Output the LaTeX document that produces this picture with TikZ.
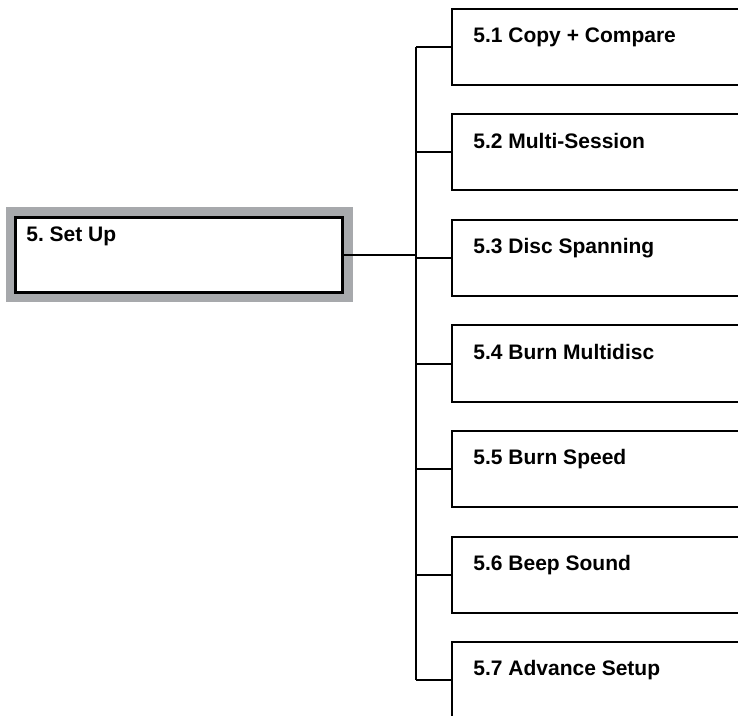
\documentclass[tikz,border=0pt]{standalone}
\usepackage{fontspec}
\setmainfont{Liberation Sans}
\usepackage{xcolor}
\usepackage{tikz}
\usetikzlibrary{positioning, calc}
\frenchspacing

\definecolor{framegray}{HTML}{A7A9AC}

\begin{document}
\begin{tikzpicture}[
  x=0.5pt, y=-0.5pt,
  menu/.style={rectangle, draw, line width=1pt, fill=white, anchor=north west, minimum width=170pt, minimum height=38pt, inner sep=0pt},
  mainmenu/.style={rectangle, draw, line width=1.5pt, fill=white, minimum width=163.5pt, minimum height=37.5pt, inner sep=0pt, preaction={draw=framegray, line width=10pt}},
  menutext/.style={anchor=north west, inner sep=0pt, font=\fontsize{10.5}{12}\selectfont\bfseries, xshift=11pt, yshift=-9.5pt},
  maintext/.style={anchor=north west, inner sep=0pt, font=\fontsize{10.5}{12}\selectfont\bfseries, xshift=6pt, yshift=-5pt},
  line/.style={draw, line width=1pt}
]
  \useasboundingbox (0,0) rectangle (738,716);
  \clip (0,0) rectangle (738,716);

  \node[mainmenu, label={[maintext]north west:5. Set Up}] (setup) at (179,255) {};

  \node[menu, label={[menutext]north west:5.1 Copy + Compare}] (cmp)  at (451,8)     {};
  \node[menu, label={[menutext]north west:5.2 Multi-Session}]  (msess) at (451,113.5) {};
  \node[menu, label={[menutext]north west:5.3 Disc Spanning}]  (span) at (451,219)   {};
  \node[menu, label={[menutext]north west:5.4 Burn Multidisc}] (mdisc) at (451,324.5) {};
  \node[menu, label={[menutext]north west:5.5 Burn Speed}]     (speed) at (451,430)   {};
  \node[menu, label={[menutext]north west:5.6 Beep Sound}]     (beep) at (451,535.5) {};
  \node[menu, label={[menutext]north west:5.7 Advance Setup}]  (adv)  at (451,641)   {};

  \coordinate (bus) at (416,255);

  \path[line] (setup.east) -- (bus);
  \path[line] (bus |- cmp.west) -- (bus |- adv.west);

  \path[line] (bus |- cmp.west) -- (cmp.west);
  \path[line] (bus |- msess.west) -- (msess.west);
  \path[line] (bus |- span.west) -- (span.west);
  \path[line] (bus |- mdisc.west) -- (mdisc.west);
  \path[line] (bus |- speed.west) -- (speed.west);
  \path[line] (bus |- beep.west) -- (beep.west);
  \path[line] (bus |- adv.west) -- (adv.west);
\end{tikzpicture}
\end{document}
